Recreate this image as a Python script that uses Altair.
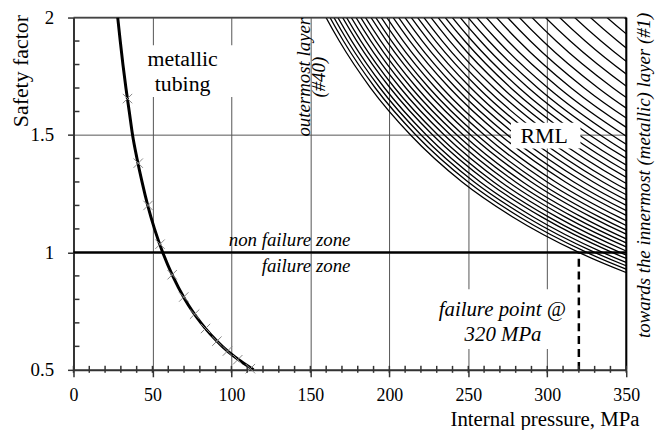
import altair as alt
import pandas as pd

# ---------------- data ----------------
# metallic tubing curve (pressure MPa vs safety factor)
tube_sf = [2.0, 1.9, 1.8, 1.7, 1.6, 1.5, 1.4, 1.3, 1.2, 1.1, 1.0, 0.9, 0.8, 0.7, 0.6, 0.5]
tube_p = [28.0, 29.6, 31.3, 33.2, 35.3, 37.4, 40.2, 43.4, 47.0, 51.3, 56.5, 62.8, 70.6, 80.7, 94.2, 114.0]

# cross markers on the metallic curve
marker_p = [34.2, 41.0, 47.2, 54.8, 62.5, 69.8, 76.7, 83.6, 90.8, 97.5, 104.0, 112.0]
marker_sf = [1.655, 1.38, 1.2, 1.035, 0.905, 0.81, 0.737, 0.676, 0.622, 0.58, 0.543, 0.505]

# RML layers: pressure at which each layer reaches SF = 1 (outermost #40 first)
rml_p_sf1 = [320, 325, 330, 335, 341, 346, 352, 358, 364, 370, 377, 383, 390, 397,
             405, 412, 420, 428, 436, 444, 453, 462, 471, 480, 490,
             500, 511, 523, 536, 550, 565, 581, 598, 616, 635, 655, 676, 698]
# common profile of a layer curve: SF level and pressure relative to the SF=1 pressure
profile_sf = [2.3, 2.1, 1.9, 1.7, 1.5, 1.3, 1.15, 1.0, 0.9, 0.8]
profile_ratio = [0.435, 0.476, 0.526, 0.588, 0.667, 0.769, 0.870, 1.0, 1.111, 1.25]

x_ticks = [0, 50, 100, 150, 200, 250, 300, 350]
y_ticks = [0.5, 1, 1.5, 2]
x_minor = list(range(0, 351, 10))
y_minor = [0.6, 0.7, 0.8, 0.9, 1.1, 1.2, 1.3, 1.4, 1.6, 1.7, 1.8, 1.9]

# ---------------- tables ----------------
tube_df = pd.DataFrame({"p": tube_p, "sf": tube_sf})
marker_df = pd.DataFrame({"p": marker_p, "sf": marker_sf})
rows = []
for i, c in enumerate(rml_p_sf1):
    for s, r in zip(profile_sf, profile_ratio):
        rows.append({"layer": i, "p": c * r, "sf": s})
rml_df = pd.DataFrame(rows)
xminor_df = pd.DataFrame({"p": x_minor})
yminor_df = pd.DataFrame({"sf": y_minor})

FONT = "Liberation Serif"
xs = alt.Scale(domain=[0, 350], nice=False, zero=False)
ys = alt.Scale(domain=[0.5, 2], nice=False, zero=False)

x_axis = alt.Axis(values=x_ticks, grid=True, gridColor="#555", gridWidth=1,
                  domainColor="#333", domainWidth=2, tickColor="#333", tickWidth=1.5,
                  tickSize=7, labelFont=FONT, labelFontSize=18, labelColor="black",
                  labelPadding=10, labelFlush=False, labelOverlap=False,
                  title="Internal pressure, MPa", titleFont=FONT, titleFontSize=21,
                  titleFontWeight="normal", titleColor="black", titleAnchor="end",
                  titleAlign="right", titleX=570, titleY=56, titleBaseline="alphabetic")
y_axis = alt.Axis(values=y_ticks, format="~g", grid=True, gridColor="#555", gridWidth=1,
                  domainColor="#333", domainWidth=2, tickColor="#333", tickWidth=1.5,
                  tickSize=6, labelFont=FONT, labelFontSize=19, labelColor="black",
                  labelPadding=14, labelFlush=False, labelOverlap=False,
                  title="Safety factor", titleFont=FONT, titleFontSize=22,
                  titleFontWeight="normal", titleColor="black", titleAngle=270,
                  titleX=-53, titleY=-3, titleAlign="right", titleBaseline="middle")


def X(field=None, datum=None):
    if datum is not None:
        return alt.X(datum=datum, scale=xs, axis=x_axis)
    return alt.X(field, type="quantitative", scale=xs, axis=x_axis)


def Y(field=None, datum=None):
    if datum is not None:
        return alt.Y(datum=datum, scale=ys, axis=y_axis)
    return alt.Y(field, type="quantitative", scale=ys, axis=y_axis)


# RML hatch curves
rml = alt.Chart(rml_df).mark_line(clip=True, interpolate="monotone", color="black",
                                  strokeWidth=1.3).encode(
    x=X("p"), y=Y("sf"), detail="layer:N")


def box(x1, x2, y1, y2):
    return alt.Chart().mark_rect(color="white").encode(
        x=X(datum=x1), x2=alt.X2(datum=x2), y=Y(datum=y1), y2=alt.Y2(datum=y2))


def label(text, px, py, size, italic=False, align="center", angle=0, baseline="alphabetic"):
    kw = dict(text=text, font=FONT, fontSize=size, color="black", align=align,
              baseline=baseline, angle=angle)
    if italic:
        kw["fontStyle"] = "italic"
    return alt.Chart().mark_text(**kw).encode(x=X(datum=px), y=Y(datum=py))


tube = alt.Chart(tube_df).mark_line(interpolate="monotone", color="black", strokeWidth=3,
                                    clip=True).encode(x=X("p"), y=Y("sf"), order="sf:Q")

markers = alt.Chart(marker_df).mark_point(shape="M-1,-1L1,1M-1,1L1,-1", size=90,
                                          filled=False, color="#888", strokeWidth=1,
                                          opacity=1).encode(x=X("p"), y=Y("sf"))

one_line = alt.Chart().mark_rule(color="black", strokeWidth=2.4).encode(y=Y(datum=1))
top_line = alt.Chart().mark_rule(color="#444", strokeWidth=1.5).encode(y=Y(datum=2))
right_line = alt.Chart().mark_rule(color="black", strokeWidth=2).encode(x=X(datum=350))
dashed = alt.Chart().mark_rule(color="black", strokeWidth=2.5, strokeDash=[8, 5]).encode(
    x=X(datum=320), y=Y(datum=0.5), y2=alt.Y2(datum=1.0))

xminor = alt.Chart(xminor_df).mark_rule(color="#333", strokeWidth=1.5).encode(
    x=X("p"), y=alt.value(351), y2=alt.value(358))
yminor = alt.Chart(yminor_df).mark_rule(color="#333", strokeWidth=1.5).encode(
    y=Y("sf"), x=alt.value(0), x2=alt.value(6))

chart = alt.layer(
    rml,
    box(44, 104, 1.662, 1.882),
    box(277, 321, 1.442, 1.552),
    box(226, 316, 0.589, 0.843),
    top_line, one_line, right_line, dashed,
    tube, markers, xminor, yminor,
    label("metallic", 69.1, 1.793, 22),
    label("tubing", 69.1, 1.687, 22),
    label("RML", 298, 1.465, 22),
    label("non failure zone", 175.4, 1.028, 19, italic=True, align="right"),
    label("failure zone", 175.4, 0.918, 19, italic=True, align="right"),
    label("failure point @", 271.5, 0.73, 21, italic=True),
    label("320 MPa", 272, 0.624, 21, italic=True),
    label("outermost layer", 145.8, 1.746, 19, italic=True, angle=270, baseline="middle"),
    label("(#40)", 155.3, 1.746, 19, italic=True, angle=270, baseline="middle"),
    label("towards the innermost (metallic) layer (#1)", 361.4, 1.328, 19, italic=True,
          angle=270, baseline="middle"),
).properties(
    width=557, height=355,
    padding={"left": 66, "top": 8, "right": 30, "bottom": 59},
    autosize=alt.AutoSizeParams(type="none"),
    background="white",
).configure_view(stroke=None)

chart.save("out.html", embed_options={"renderer": "svg", "actions": False})
